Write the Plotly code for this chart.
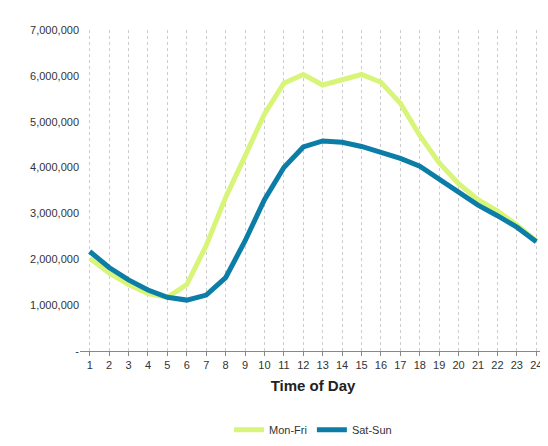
import plotly.graph_objects as go

hours = list(range(1, 25))
mon_fri = [2.02e6, 1.70e6, 1.45e6, 1.25e6, 1.17e6, 1.45e6, 2.30e6, 3.35e6, 4.25e6, 5.17e6, 5.84e6, 6.03e6,
           5.80e6, 5.92e6, 6.03e6, 5.86e6, 5.40e6, 4.70e6, 4.10e6, 3.65e6, 3.30e6, 3.05e6, 2.75e6, 2.40e6]
sat_sun = [2.17e6, 1.82e6, 1.55e6, 1.33e6, 1.17e6, 1.11e6, 1.22e6, 1.60e6, 2.40e6, 3.30e6, 4.00e6, 4.45e6,
           4.58e6, 4.55e6, 4.46e6, 4.33e6, 4.20e6, 4.03e6, 3.75e6, 3.45e6, 3.18e6, 2.95e6, 2.70e6, 2.38e6]
yticks = [0, 1e6, 2e6, 3e6, 4e6, 5e6, 6e6, 7e6]
ytext = ["-", "1,000,000", "2,000,000", "3,000,000", "4,000,000", "5,000,000", "6,000,000", "7,000,000"]

fig = go.Figure()
fig.add_trace(go.Scatter(x=hours, y=mon_fri, name="Mon-Fri", mode="lines",
                         line=dict(color="#D8F57A", width=5)))
fig.add_trace(go.Scatter(x=hours, y=sat_sun, name="Sat-Sun", mode="lines",
                         line=dict(color="#0B7DA6", width=5)))
fig.update_layout(
    width=548, height=446, paper_bgcolor="white", plot_bgcolor="white",
    margin=dict(l=72, r=10, t=22, b=92),
    font=dict(family="Liberation Sans, Arial", size=11, color="#333"),
    legend=dict(orientation="h", x=0.5, xanchor="center", y=-0.2, yanchor="top", font=dict(size=11)),
    xaxis=dict(title=dict(text="<b>Time of Day</b>", font=dict(size=15, color="#222"), standoff=10),
               tickmode="array", tickvals=hours, range=[0.5, 24.5],
               showgrid=True, gridcolor="#cccccc", griddash="dot", gridwidth=1,
               showline=True, linecolor="#888", ticks="outside", ticklen=4, tickcolor="#888"),
    yaxis=dict(range=[0, 7e6], tickvals=yticks, ticktext=ytext, showgrid=False,
               showline=False, zeroline=False),
)
fig.write_html("out.html")
